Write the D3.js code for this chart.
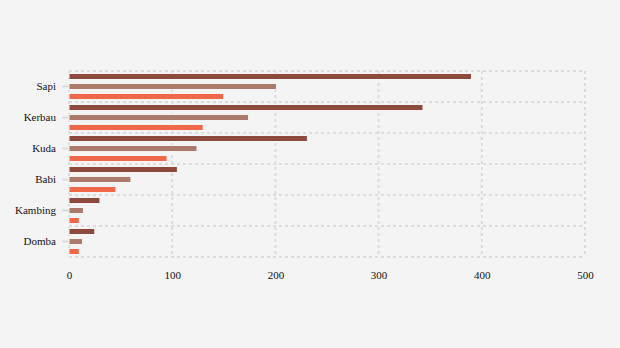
<!DOCTYPE html>
<html><head><meta charset="utf-8">
<script src="https://cdn.jsdelivr.net/npm/d3@7"></script>
<style>
html,body{margin:0;padding:0;background:#f4f4f4;}
svg{display:block;}
text{font-family:"Liberation Serif","Times New Roman",serif;}
</style></head>
<body>
<script>
const categories = ["Sapi","Kerbau","Kuda","Babi","Kambing","Domba"];
const series = ["s1","s2","s3"];
const values1 = [390, 343, 231, 105, 30, 25];
const values2 = [201, 174, 124, 60, 14, 13];
const values3 = [150, 130, 95, 45.5, 10, 10];
const xTicks = [0,100,200,300,400,500];
const colors = ["#8d4a3c","#ab7a6a","#f06749"];

const W=620,H=348;
const m={left:69,right:35,top:71,bottom:91};
const svg=d3.select("body").append("svg").attr("width",W).attr("height",H);
svg.append("rect").attr("width",W).attr("height",H).attr("fill","#f4f4f4");

const x=d3.scaleLinear().domain([0,500]).range([m.left,W-m.right]);
const y=d3.scaleBand().domain(categories).range([m.top,H-m.bottom]).padding(0);
const y1=d3.scaleBand().domain(series).range([0,y.bandwidth()]).paddingInner(0.4).paddingOuter(0.25);

const grid=svg.append("g").attr("stroke","#dcdcdc").attr("stroke-width",2).attr("stroke-dasharray","3,3");
xTicks.forEach(t=>grid.append("line").attr("x1",x(t)).attr("x2",x(t)).attr("y1",m.top).attr("y2",H-m.bottom));
const bounds=categories.map(c=>y(c)).concat([H-m.bottom]);
bounds.forEach(b=>grid.append("line").attr("x1",m.left).attr("x2",W-m.right).attr("y1",b).attr("y2",b));

const yAxis=svg.append("g").attr("transform",`translate(${m.left},0)`)
  .call(d3.axisLeft(y).tickSize(6).tickPadding(7));
yAxis.select(".domain").remove();
yAxis.selectAll(".tick line").attr("stroke","#dcdcdc").attr("stroke-width",2).attr("transform","translate(-1,0)");
yAxis.selectAll("text").attr("font-size",11).attr("fill","#111").attr("font-family","Liberation Serif, serif");

const xAxis=svg.append("g").attr("transform",`translate(0,${H-m.bottom})`)
  .call(d3.axisBottom(x).tickValues(xTicks).tickSize(0).tickPadding(14));
xAxis.select(".domain").remove();
xAxis.selectAll("text").attr("font-size",11).attr("fill","#111").attr("font-family","Liberation Serif, serif");

const all=[values1,values2,values3];
const rows=categories.map((c,i)=>({c,vals:all.map(a=>a[i])}));
const g=svg.append("g");
rows.forEach(r=>{
  r.vals.forEach((v,j)=>{
    g.append("rect")
      .attr("x",x(0)).attr("y",y(r.c)+y1(series[j]))
      .attr("width",x(v)-x(0)).attr("height",y1.bandwidth())
      .attr("fill",colors[j]).attr("stroke","#f4f4f4").attr("stroke-width",1);
  });
});
</script>
</body></html>
